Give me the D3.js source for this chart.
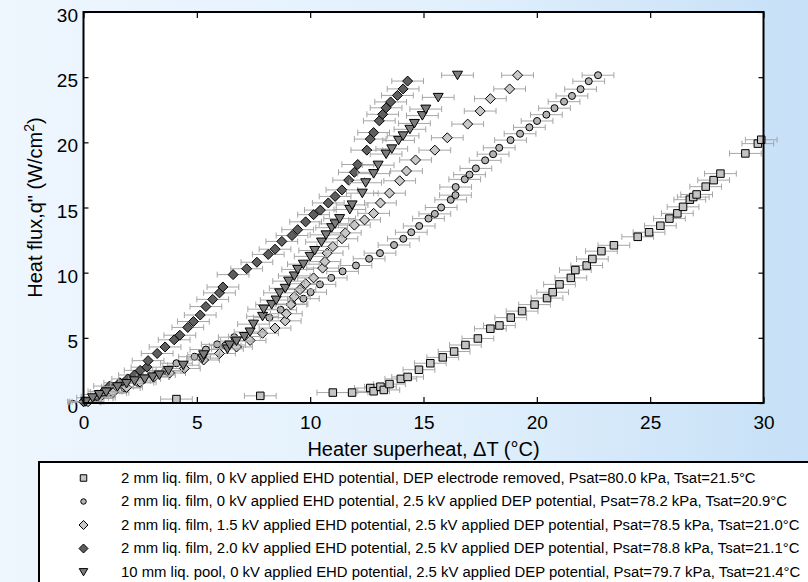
<!DOCTYPE html>
<html><head><meta charset="utf-8">
<script src="https://cdn.jsdelivr.net/npm/d3@7"></script>
<style>html,body{margin:0;padding:0;overflow:hidden;background:#fff}</style>
</head><body>
<svg id="chart" width="808" height="582"></svg>
<script>
// ---------- data (superheat °C, heat flux W/cm2) ----------
const sqNoDEP = [[4.1,0.3],[7.8,0.55],[11.0,0.8],[11.85,0.8],[12.65,1.15],[12.8,0.9],[13.1,1.25],[13.25,1.0],[13.5,1.45],[14.0,1.85],[14.3,2.0],[14.8,2.55],[15.3,3.05],[15.85,3.5],[16.35,3.95],[16.85,4.45],[17.4,4.95],[17.95,5.7],[18.35,5.95],[18.85,6.55],[19.35,7.05],[19.9,7.55],[20.45,8.05],[20.7,8.5],[21.0,9.1],[21.5,9.6],[21.7,10.2],[22.2,10.55],[22.45,11.05],[22.85,11.65],[23.4,12.1],[24.45,12.75],[24.95,13.1],[25.45,13.6],[25.85,14.15],[26.2,14.55],[26.45,15.05],[26.75,15.6],[26.9,15.8],[27.05,16.0],[27.45,16.6],[27.8,17.1],[28.1,17.6],[29.2,19.15],[29.75,19.9],[29.9,20.2]];
const circDEP = [[0.05,0.05],[0.6,0.35],[1.2,0.75],[1.8,1.15],[2.4,1.55],[3.1,2.05],[3.6,2.45],[4.1,3.05],[4.9,3.55],[5.4,4.1],[5.9,4.5],[6.25,4.4],[6.65,5.05],[8.2,6.55],[8.7,7.15],[9.2,7.6],[9.7,8.0],[10.02,8.5],[10.43,9.1],[10.93,9.6],[11.43,10.1],[12.02,10.55],[12.6,11.07],[13.08,11.5],[13.7,12.12],[14.11,12.6],[14.46,13.1],[14.81,13.58],[15.22,14.15],[15.5,14.51],[15.78,15.0],[16.2,15.59],[16.41,15.95],[16.42,16.57],[16.82,17.16],[17.03,17.52],[17.31,18.0],[17.72,18.62],[18.07,19.09],[18.34,19.58],[18.84,20.17],[19.26,20.66],[19.67,21.15],[20.01,21.64],[20.42,22.12],[20.78,22.62],[21.2,23.12],[21.55,23.56],[21.93,24.08],[22.29,24.69],[22.7,25.15]];
const diaEHD15 = [[0.2,0.1],[0.7,0.4],[1.3,0.8],[1.9,1.2],[2.5,1.6],[3.1,2.0],[3.8,2.3],[4.45,2.65],[5.3,3.3],[6.0,3.8],[6.75,4.3],[7.35,4.8],[7.9,5.35],[8.45,5.75],[8.9,6.3],[8.95,6.85],[9.15,7.55],[9.3,8.15],[9.55,8.7],[9.8,9.15],[10.15,9.6],[10.55,10.35],[10.65,10.85],[10.75,11.5],[11.0,12.0],[11.4,12.6],[11.55,13.05],[11.95,13.65],[12.4,14.05],[12.8,14.55],[13.1,15.35],[13.5,16.1],[13.95,17.05],[14.25,17.8],[14.65,18.65],[15.5,19.4],[16.05,20.35],[16.95,21.4],[17.5,22.4],[17.95,23.35],[18.8,24.1],[19.15,25.15]];
const diaEHD20 = [[0.0,0.1],[0.6,0.5],[0.9,0.9],[1.15,1.3],[1.6,1.55],[1.95,1.85],[2.25,2.15],[2.5,2.5],[2.8,2.75],[2.85,3.25],[3.25,3.8],[3.6,4.3],[4.0,4.85],[4.25,5.2],[4.6,5.8],[4.85,6.25],[5.15,6.75],[5.4,7.4],[5.7,7.95],[6.0,8.45],[6.15,8.9],[6.6,9.85],[7.2,10.3],[7.65,10.8],[8.15,11.4],[8.45,11.8],[8.75,12.4],[9.2,12.85],[9.45,13.3],[9.8,13.9],[10.15,14.45],[10.45,14.8],[10.8,15.35],[11.1,15.85],[11.4,16.35],[11.7,17.1],[11.95,17.7],[12.1,18.3],[12.5,19.4],[12.65,20.25],[12.8,20.75],[13.05,21.65],[13.2,22.15],[13.35,22.65],[13.55,23.1],[13.85,23.6],[14.1,24.1],[14.3,24.7]];
const triPool = [[0.1,0.1],[0.4,0.4],[0.7,0.65],[1.0,0.85],[1.5,1.25],[1.9,1.5],[2.25,1.7],[2.7,1.85],[3.05,2.0],[3.35,2.15],[3.75,2.5],[4.4,2.9],[5.25,3.45],[5.3,3.7],[6.35,4.15],[6.45,4.45],[6.75,4.75],[7.1,5.1],[7.35,5.45],[7.5,6.05],[7.9,6.65],[7.95,7.2],[8.3,7.55],[8.5,7.9],[8.65,8.45],[8.9,8.8],[9.05,9.35],[9.3,9.75],[9.45,10.25],[9.7,10.65],[10.0,11.25],[10.2,11.7],[10.5,12.35],[10.7,12.9],[10.95,13.45],[11.1,13.75],[11.3,14.15],[11.75,14.85],[11.85,15.2],[12.3,16.1],[12.45,16.9],[12.8,17.6],[13.0,18.25],[13.35,19.1],[13.6,19.5],[13.9,20.15],[14.1,20.5],[14.4,21.0],[14.6,21.45],[14.95,22.05],[15.1,22.55],[15.65,23.45],[16.5,25.15]];
const xErr = 0.7; // ± uncertainty in superheat
const xTicks = [0,5,10,15,20,25,30];
const yTicks = [0,5,10,15,20,25,30];
const legendLabels = [
  "2 mm liq. film, 0 kV applied EHD potential, DEP electrode removed, Psat=80.0 kPa, Tsat=21.5\u00B0C",
  "2 mm liq. film, 0 kV applied EHD potential, 2.5 kV applied DEP potential, Psat=78.2 kPa, Tsat=20.9\u00B0C",
  "2 mm liq. film, 1.5 kV applied EHD potential, 2.5 kV applied DEP potential, Psat=78.5 kPa, Tsat=21.0\u00B0C",
  "2 mm liq. film, 2.0 kV applied EHD potential, 2.5 kV applied DEP potential, Psat=78.8 kPa, Tsat=21.1\u00B0C",
  "10 mm liq. pool, 0 kV applied EHD potential, 2.5 kV applied DEP potential, Psat=79.7 kPa, Tsat=21.4\u00B0C"
];

// ---------- symbols ----------
const symSquare = {draw(c, s){const h=s/2;c.moveTo(-h,-h);c.lineTo(h,-h);c.lineTo(h,h);c.lineTo(-h,h);c.closePath();}};
const symCircle = {draw(c, s){const r=s/2;c.moveTo(r,0);c.arc(0,0,r,0,2*Math.PI);}};
const symDiamond = {draw(c, s){const h=s/2;c.moveTo(0,-h);c.lineTo(h,0);c.lineTo(0,h);c.lineTo(-h,0);c.closePath();}};
const symTriDown = {draw(c, s){const h=s/2;c.moveTo(-h,-h*0.8);c.lineTo(h,-h*0.8);c.lineTo(0,h*0.9);c.closePath();}};

const series = [
  {data: sqNoDEP, sym: symSquare, size: 7.5, lsize: 6.5, fill: "#c4c4c4"},
  {data: circDEP, sym: symCircle, size: 7, lsize: 5.5, fill: "#b4b4b4"},
  {data: diaEHD15, sym: symDiamond, size: 10, lsize: 9, fill: "#c8c8c8"},
  {data: diaEHD20, sym: symDiamond, size: 10, lsize: 9, fill: "#5e5e5e"},
  {data: triPool, sym: symTriDown, size: 10, lsize: 8.5, fill: "#7c7c7c"}
];

// ---------- layout ----------
const W = 808, H = 582;
const svg = d3.select("#chart");
const font = "'Liberation Sans', Arial, Helvetica, sans-serif";

const defs = svg.append("defs");
const grad = defs.append("linearGradient").attr("id","bg").attr("x1","0").attr("y1","0").attr("x2","1").attr("y2","0");
grad.append("stop").attr("offset","0%").attr("stop-color","#eef6fe");
grad.append("stop").attr("offset","55%").attr("stop-color","#e2f0fc");
grad.append("stop").attr("offset","100%").attr("stop-color","#c6e0f7");
svg.append("rect").attr("width",W).attr("height",H).attr("fill","url(#bg)");

const x = d3.scaleLinear().domain([0,30]).range([83.5,763.5]);
const y = d3.scaleLinear().domain([0,30]).range([403,12]);

// plot area
svg.append("rect").attr("x",x(0)).attr("y",y(30)).attr("width",x(30)-x(0)).attr("height",y(0)-y(30)).attr("fill","#fff");

// axes
function styleAxis(g){ g.select(".domain").remove(); g.selectAll(".tick line").attr("stroke","#000").attr("stroke-width",1.2); g.selectAll("text").attr("font-family",font).attr("font-size",19).attr("fill","#000"); }
svg.append("g").attr("transform",`translate(0,${y(0)})`).call(d3.axisBottom(x).tickValues(xTicks).tickSizeInner(-6).tickSizeOuter(0).tickPadding(12.5).tickFormat(d3.format("d"))).call(styleAxis);
svg.append("g").attr("transform",`translate(0,${y(30)})`).call(d3.axisTop(x).tickValues(xTicks).tickSizeInner(-6).tickSizeOuter(0).tickFormat("")).call(styleAxis);
svg.append("g").attr("transform",`translate(${x(0)},0)`).call(d3.axisLeft(y).tickValues(yTicks).tickSizeInner(-5).tickSizeOuter(0).tickPadding(5.5).tickFormat(d3.format("d"))).call(styleAxis)
  .selectAll("text").attr("dy","0.5em");
svg.append("g").attr("transform",`translate(${x(30)},0)`).call(d3.axisRight(y).tickValues(yTicks).tickSizeInner(-5).tickSizeOuter(0).tickFormat("")).call(styleAxis);

// series
const plot = svg.append("g");
series.forEach(s => {
  const g = plot.append("g");
  const eb = g.append("g").attr("stroke","#a6a6a6").attr("stroke-width",1).attr("fill","none");
  s.data.forEach(([vx,vy]) => {
    const x0 = x(vx - xErr), x1 = x(vx + xErr), yy = y(vy);
    eb.append("line").attr("x1",x0).attr("x2",x1).attr("y1",yy).attr("y2",yy);
    eb.append("line").attr("x1",x0).attr("x2",x0).attr("y1",yy-3).attr("y2",yy+3);
    eb.append("line").attr("x1",x1).attr("x2",x1).attr("y1",yy-3).attr("y2",yy+3);
  });
  g.selectAll("path.m").data(s.data).join("path").attr("class","m")
    .attr("d", d3.symbol(s.sym, s.size))
    .attr("transform", d => `translate(${x(d[0])},${y(d[1])})`)
    .attr("fill", s.fill).attr("stroke","#000").attr("stroke-width",1);
});

// frame
svg.append("rect").attr("x",x(0)).attr("y",y(30)).attr("width",x(30)-x(0)).attr("height",y(0)-y(30))
  .attr("fill","none").attr("stroke","#000").attr("stroke-width",2);

// axis labels
svg.append("text").attr("x",(x(0)+x(30))/2).attr("y",456).attr("text-anchor","middle")
  .attr("font-family",font).attr("font-size",20).attr("fill","#000")
  .text("Heater superheat, \u0394T (\u00B0C)");
const yl = svg.append("text").attr("transform",`translate(42,${(y(0)+y(30))/2}) rotate(-90)`).attr("text-anchor","middle")
  .attr("font-family",font).attr("font-size",20).attr("fill","#000");
yl.append("tspan").text("Heat flux,q\" (W/cm");
yl.append("tspan").attr("font-size",14).attr("dy",-8).text("2");
yl.append("tspan").attr("dy",8).text(")");

// legend
svg.append("rect").attr("x",39).attr("y",462).attr("width",800).attr("height",200)
  .attr("fill","#fff").attr("stroke","#000").attr("stroke-width",2);
const rowY = d3.range(legendLabels.length).map(i => 478 + i*23.5);
const lg = svg.append("g");
const texts = lg.selectAll("text").data(legendLabels).join("text")
  .attr("x",121).attr("y",(d,i)=>rowY[i]+4.5)
  .attr("font-family",font).attr("font-size",13).attr("fill","#000").text(d=>d);
// fit legend font so the longest row spans like the reference
const w3 = texts.nodes()[2].getComputedTextLength();
texts.attr("font-size", 13*679/w3);
series.forEach((s,i) => {
  lg.append("path").attr("d", d3.symbol(s.sym, s.lsize)).attr("transform",`translate(83.5,${rowY[i]})`)
    .attr("fill", s.fill).attr("stroke","#000").attr("stroke-width",1);
});
</script>
</body></html>
